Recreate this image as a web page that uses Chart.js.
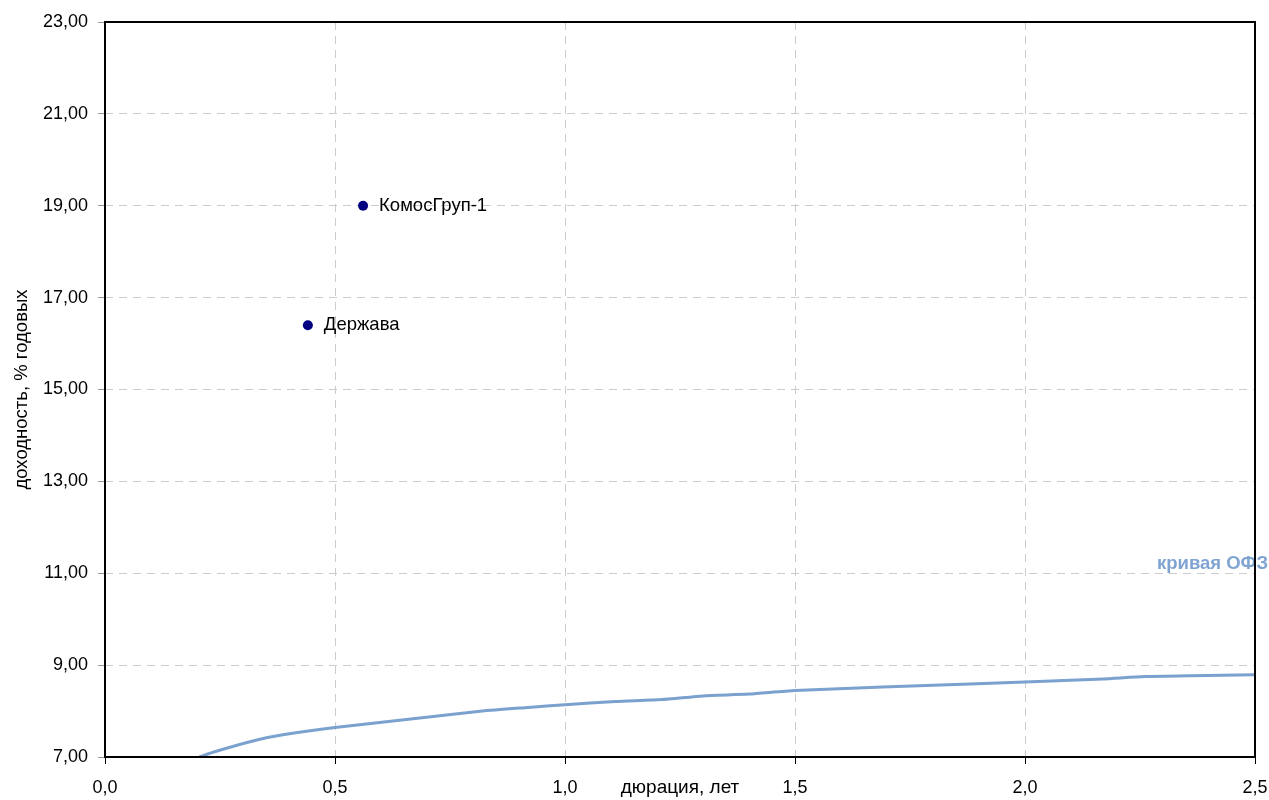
<!DOCTYPE html>
<html>
<head>
<meta charset="utf-8">
<script src="https://cdn.jsdelivr.net/npm/chart.js@4"></script>
<style>
  html, body { margin: 0; padding: 0; background: #fff; }
  #wrap { width: 1269px; height: 800px; }
</style>
</head>
<body>
<div id="wrap"><canvas id="yield-chart"></canvas></div>
<script>
// Кривая ОФЗ (дюрация, лет -> доходность, %)
var curveDur = [0.205, 0.24, 0.33, 0.39, 0.5, 0.82, 0.92, 1.0, 1.11, 1.21, 1.30, 1.40, 1.5, 1.88, 2.0, 2.17, 2.26, 2.36, 2.5];
var curveYld = [7.0, 7.12, 7.37, 7.49, 7.64, 8.0, 8.08, 8.14, 8.21, 8.25, 8.33, 8.37, 8.45, 8.59, 8.63, 8.70, 8.75, 8.77, 8.79];

// Эмитенты
var bondNames = ["КомосГруп-1", "Держава"];
var bondDur = [0.561, 0.441];
var bondYld = [19.0, 16.4];

var curveLabel = "кривая ОФЗ";
var curveLabelAt = [2.5, 11.2];

var FONT = "'Liberation Sans', Arial, sans-serif";

function commaFmt(v, digits) {
    return Number(v).toFixed(digits).replace(".", ",");
}

// подписи точек и кривой
var labelsPlugin = {
    id: "pointLabels",
    afterDatasetsDraw: function (chart) {
        var ctx = chart.ctx;
        var xs = chart.scales.x, ys = chart.scales.y;
        ctx.save();
        ctx.font = "18.5px " + FONT;
        ctx.fillStyle = "#000";
        ctx.textAlign = "left";
        ctx.textBaseline = "middle";
        for (var i = 0; i < bondNames.length; i++) {
            ctx.fillText(bondNames[i], xs.getPixelForValue(bondDur[i]) + 16, ys.getPixelForValue(bondYld[i]));
        }
        ctx.font = "bold 18.5px " + FONT;
        ctx.fillStyle = "#7fa4d2";
        ctx.textAlign = "right";
        ctx.fillText(curveLabel, xs.getPixelForValue(curveLabelAt[0]) + 13, ys.getPixelForValue(curveLabelAt[1]));
        ctx.restore();
    },
    afterDraw: function (chart) {
        // рамка области построения
        var a = chart.chartArea, ctx = chart.ctx;
        ctx.save();
        ctx.strokeStyle = "#000";
        ctx.lineWidth = 2;
        ctx.strokeRect(a.left, a.top, a.right - a.left, a.bottom - a.top);
        ctx.restore();
    }
};

var curvePoints = curveDur.map(function (d, i) { return { x: d, y: curveYld[i] }; });
var bondPoints = bondDur.map(function (d, i) { return { x: d, y: bondYld[i] }; });

var ctx = document.getElementById("yield-chart");

var chartOptions = {
    responsive: true,
    maintainAspectRatio: false,
    animation: false,
    layout: { padding: { top: 22, right: 14, left: 0, bottom: 0 } },
    plugins: { legend: { display: false }, tooltip: { enabled: false } },
    scales: {
        x: {
            type: "linear",
            min: 0,
            max: 2.5,
            afterFit: function (s) { s.height = 43; s.paddingLeft = 0; s.paddingRight = 0; },
            border: { display: false, dash: [8, 6] },
            grid: { color: "#cccccc", lineWidth: 1, tickLength: 7, tickColor: "#000", tickBorderDash: [] },
            ticks: {
                stepSize: 0.5,
                padding: 13,
                color: "#000",
                maxRotation: 0,
                font: { family: FONT, size: 18 },
                callback: function (v) { return commaFmt(v, 1); }
            },
            title: {
                display: true,
                text: "дюрация, лет",
                color: "#000",
                font: { family: FONT, size: 19 },
                padding: { top: 0, bottom: 1 }
            }
        },
        y: {
            type: "linear",
            min: 7,
            max: 23,
            afterFit: function (s) { s.width = 105; s.paddingTop = 0; s.paddingBottom = 0; },
            border: { display: false, dash: [8, 6] },
            grid: { color: "#cccccc", lineWidth: 1, tickLength: 7, tickColor: "#999", tickBorderDash: [] },
            ticks: {
                stepSize: 2,
                padding: 10,
                color: "#000",
                font: { family: FONT, size: 18 },
                callback: function (v) { return commaFmt(v, 2); }
            },
            title: {
                display: true,
                text: "доходность, % годовых",
                color: "#000",
                font: { family: FONT, size: 18.5 },
                padding: { top: 11, bottom: 0 }
            }
        }
    }
};

var chartData = {
    datasets: [{
        label: "кривая ОФЗ",
        data: curvePoints,
        showLine: true,
        borderColor: "#7ba1cf",
        borderWidth: 3,
        pointRadius: 0,
        tension: 0.2,
        fill: false
    }, {
        label: "эмитенты",
        data: bondPoints,
        showLine: false,
        pointRadius: 5,
        pointBackgroundColor: "#000080",
        pointBorderColor: "#000080",
        pointBorderWidth: 0
    }]
};

var config = {
    type: "scatter",
    options: chartOptions,
    data: chartData,
    plugins: [labelsPlugin]
};

var yieldChart = new Chart(ctx, config);
</script>
</body>
</html>
